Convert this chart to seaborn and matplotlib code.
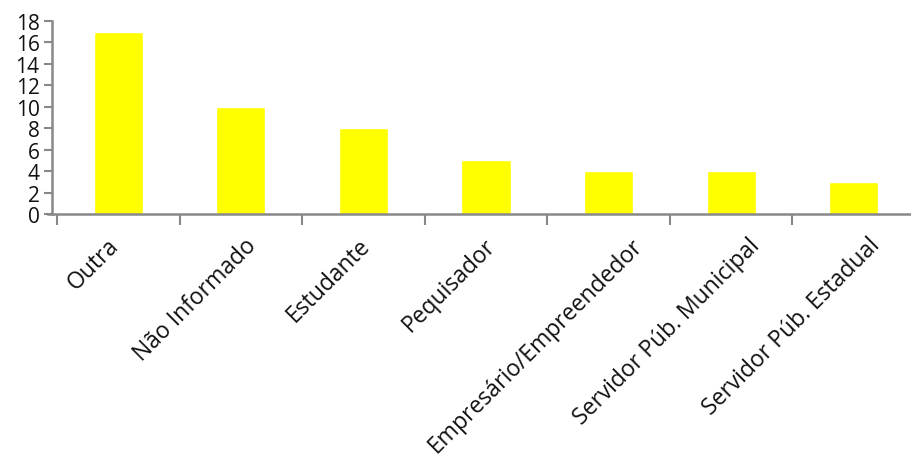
import numpy as np
import pandas as pd
import seaborn as sns
import matplotlib.pyplot as plt
import matplotlib.transforms as mtransforms
from matplotlib.ticker import FixedLocator

categories = ["Outra", "Não Informado", "Estudante", "Pequisador",
              "Empresário/Empreendedor", "Servidor Púb. Municipal",
              "Servidor Púb. Estadual"]
counts = [17, 10, 8, 5, 4, 4, 3]
y_ticks = list(range(0, 19, 2))

sns.set_style("white")
plt.rcParams['font.family'] = ['Open Sans', 'DejaVu Sans']

W, H = 911, 464
fig = plt.figure(figsize=(W / 100, H / 100), dpi=100)
# axes from x=48px to 915px, y from 22px to 215px (top-origin)
ax = fig.add_axes([48 / W, 1 - 215 / H, (915 - 48) / W, (215 - 22) / H])

df = pd.DataFrame({"cat": categories, "n": counts})
sns.barplot(data=df, x="cat", y="n", color="#ffff00", saturation=1,
            width=0.4, ax=ax)

px = 7 / (915 - 57)
ax.set_xlim(-0.5 - 9 * px, 6.5)
ax.set_ylim(0, 18)
ax.set_yticks(y_ticks)
ax.set_xlabel("")
ax.set_ylabel("")

gray = "#888888"
txt = "#111111"
for s in ["top", "right"]:
    ax.spines[s].set_visible(False)
ax.spines["left"].set_position(("data", -0.5 - 5 * px))
for s in ["left", "bottom"]:
    ax.spines[s].set_color(gray)
    ax.spines[s].set_linewidth(1.8)

ax.tick_params(axis="y", length=6, width=1.5, color=gray, pad=3,
               labelsize=15, labelcolor=txt, left=True)
ax.xaxis.set_minor_locator(FixedLocator(np.arange(-0.5, 7, 1)))
ax.tick_params(axis="x", which="minor", length=8, width=1.5, color=gray,
               bottom=True)
ax.set_xticks(range(len(categories)))
ax.set_xticklabels([])
ax.tick_params(axis="x", which="major", length=0)

# rotated category labels; the end shifts right a bit for longer labels
base = mtransforms.blended_transform_factory(ax.transData, ax.transAxes)
fig.canvas.draw()
renderer = fig.canvas.get_renderer()
for i, cat in enumerate(categories):
    t = ax.text(i, 0, cat, transform=base, rotation=45, ha="right",
                va="top", rotation_mode="anchor", fontsize=16.5,
                color=txt, clip_on=False)
    span = t.get_window_extent(renderer).width
    off = 0.209 * span - 9.4 - 15
    t.set_transform(base + mtransforms.ScaledTranslation(
        off / 100, -19 / 100, fig.dpi_scale_trans))

fig.savefig("out.png", dpi=100)
